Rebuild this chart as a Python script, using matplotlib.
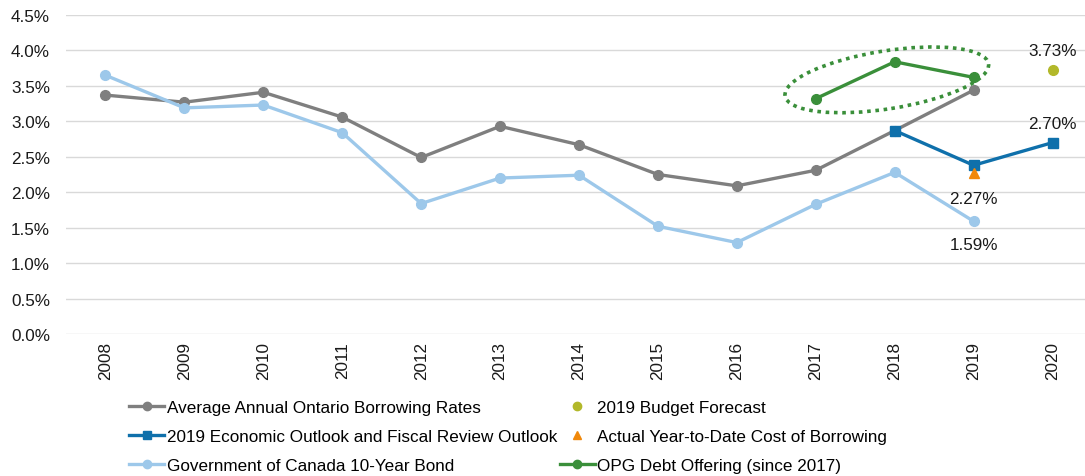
import numpy as np
import matplotlib
matplotlib.use("Agg")
import matplotlib.pyplot as plt
from matplotlib.lines import Line2D
from matplotlib.patches import Ellipse
from matplotlib.transforms import ScaledTranslation
from matplotlib.ticker import FuncFormatter

plt.rcParams['font.family'] = ['Liberation Sans', 'DejaVu Sans']

years = ['2008', '2009', '2010', '2011', '2012', '2013', '2014',
         '2015', '2016', '2017', '2018', '2019', '2020']

ontario_avg = [3.37, 3.27, 3.41, 3.06, 2.49, 2.93, 2.67, 2.25, 2.09, 2.31, 2.87, 3.44]
canada_10y = [3.65, 3.19, 3.23, 2.84, 1.84, 2.20, 2.24, 1.52, 1.29, 1.83, 2.28, 1.59]
fall_outlook_years = ['2018', '2019', '2020']
fall_outlook = [2.87, 2.38, 2.70]
budget_year = ['2020']
budget_forecast = [3.73]
ytd_year = ['2019']
ytd_cost = [2.27]
opg_years = ['2017', '2018', '2019']
opg_offering = [3.32, 3.84, 3.62]

C_GREY = '#7f7f7f'
C_LBLUE = '#9dc8ea'
C_BLUE = '#0f70ab'
C_OLIVE = '#b2b82a'
C_ORANGE = '#f0880a'
C_GREEN = '#3a8f3a'
C_TEXT = '#1a1a1a'

W, H = 1085, 477
fig = plt.figure(figsize=(W / 100, H / 100), dpi=100)
ax = fig.add_axes([66 / W, (H - 335) / H, (1092 - 66) / W, (335 - 16) / H])

idx = {y: i for i, y in enumerate(years)}
xi = lambda ys: [idx[y] for y in ys]

lw = 2.4
ms = 7
ax.plot(xi(years[:12]), ontario_avg, color=C_GREY, lw=lw, marker='o', ms=ms, zorder=3)
ax.plot(xi(years[:12]), canada_10y, color=C_LBLUE, lw=lw, marker='o', ms=ms, zorder=3)
ax.plot(xi(fall_outlook_years), fall_outlook, color=C_BLUE, lw=lw, marker='s', ms=ms, zorder=4)
ax.plot(xi(budget_year), budget_forecast, ls='none', color=C_OLIVE, marker='o', ms=ms, zorder=4)
ax.plot(xi(ytd_year), ytd_cost, ls='none', color=C_ORANGE, marker='^', ms=ms + 0.5, zorder=4)
ax.plot(xi(opg_years), opg_offering, color=C_GREEN, lw=lw, marker='o', ms=ms, zorder=5)

# dotted ring highlighting the OPG offerings
ring_tr = fig.dpi_scale_trans + ScaledTranslation(9.9, 3.585, ax.transData)
ring = Ellipse((0, 0), 2.06, 0.58, angle=9, transform=ring_tr, fill=False,
               edgecolor=C_GREEN, lw=2.6, linestyle=(0, (1, 1.3)), zorder=6)
ax.add_patch(ring)

fs = 12.3
lbl = dict(fontsize=fs, color=C_TEXT, ha='center', va='center', textcoords='offset points')
ax.annotate(f'{budget_forecast[0]:.2f}%', (idx['2020'], budget_forecast[0]), xytext=(0, 13.5), **lbl)
ax.annotate(f'{fall_outlook[2]:.2f}%', (idx['2020'], fall_outlook[2]), xytext=(0, 14), **lbl)
ax.annotate(f'{ytd_cost[0]:.2f}%', (idx['2019'], ytd_cost[0]), xytext=(0, -18), **lbl)
ax.annotate(f'{canada_10y[-1]:.2f}%', (idx['2019'], canada_10y[-1]), xytext=(0, -17), **lbl)

ax.set_xlim(-0.5, len(years) - 0.5)
ax.set_ylim(0, 4.5)
ax.set_yticks(np.arange(0, 4.51, 0.5))
ax.yaxis.set_major_formatter(FuncFormatter(lambda v, p: f'{v:.1f}%'))
ax.set_xticks(range(len(years)))
ax.set_xticklabels(years, rotation=90)
ax.tick_params(axis='both', length=0, labelsize=fs, labelcolor=C_TEXT)
ax.tick_params(axis='x', pad=5)
ax.tick_params(axis='y', pad=11.5)
ax.grid(axis='y', color='#d9d9d9', lw=1)
ax.set_axisbelow(True)
for s in ax.spines.values():
    s.set_visible(False)

handles = [
    Line2D([], [], color=C_GREY, lw=lw, marker='o', ms=6),
    Line2D([], [], color=C_BLUE, lw=lw, marker='s', ms=6),
    Line2D([], [], color=C_LBLUE, lw=lw, marker='o', ms=6),
    Line2D([], [], ls='none', color=C_OLIVE, marker='o', ms=6),
    Line2D([], [], ls='none', color=C_ORANGE, marker='^', ms=6),
    Line2D([], [], color=C_GREEN, lw=lw, marker='o', ms=6),
]
labels = [
    'Average Annual Ontario Borrowing Rates',
    '2019 Economic Outlook and Fiscal Review Outlook',
    'Government of Canada 10-Year Bond',
    '2019 Budget Forecast',
    'Actual Year-to-Date Cost of Borrowing',
    'OPG Debt Offering (since 2017)',
]
fig.legend(handles, labels, ncol=2, loc='upper left',
           bbox_to_anchor=(129 / W, 1 - 401 / H), frameon=False,
           fontsize=fs, handlelength=2.05, handletextpad=0.15,
           columnspacing=0.15, labelspacing=0.83, borderpad=0, borderaxespad=0)

fig.savefig('out.png', dpi=100)
